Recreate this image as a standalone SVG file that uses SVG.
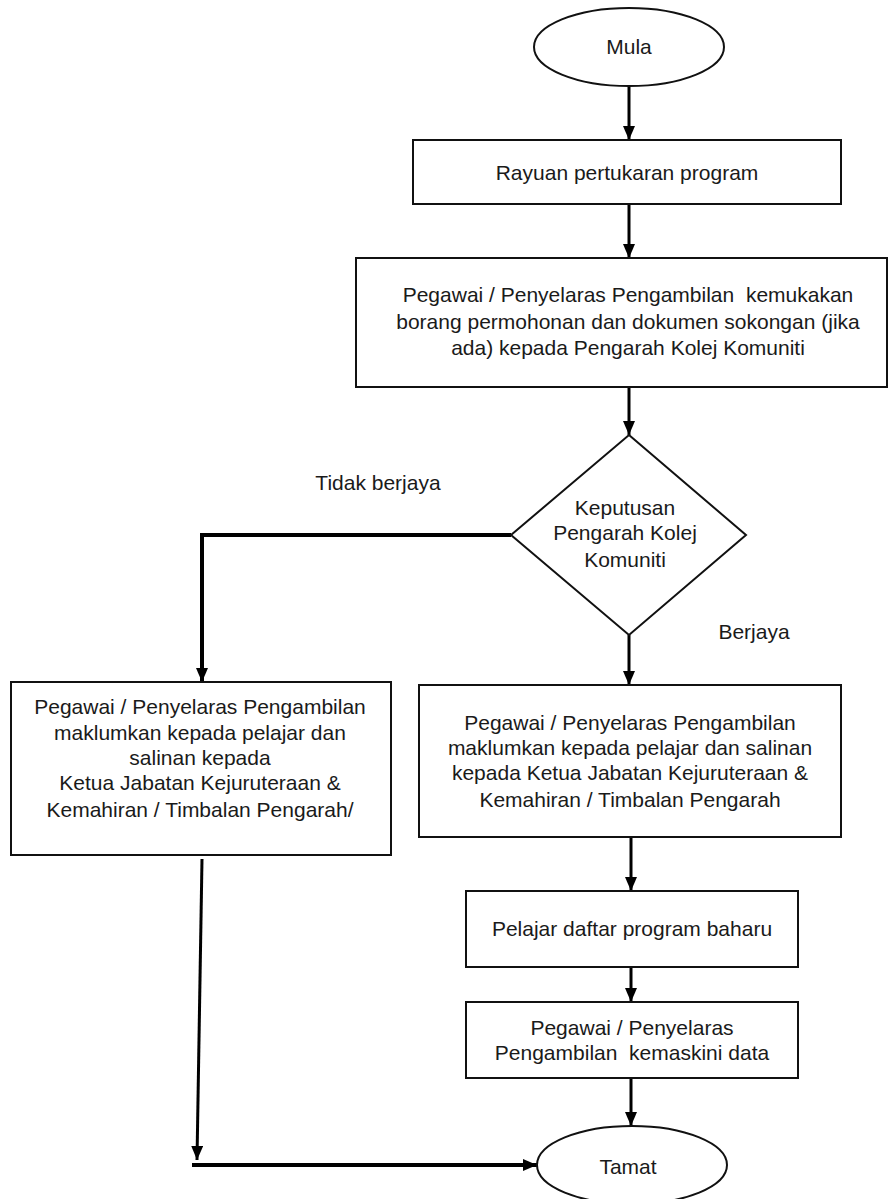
<svg xmlns="http://www.w3.org/2000/svg" width="891" height="1199" viewBox="0 0 891 1199">
<defs>
<style>
.box{fill:#fff;stroke:#111;stroke-width:2}
.t{font-family:"Liberation Sans",Arial,sans-serif;font-size:21px;fill:#1a1a1a;text-anchor:middle;white-space:pre}
.c{fill:none;stroke:#000;stroke-width:3;marker-end:url(#ah)}
</style>
<marker id="ah" viewBox="0 0 14 12" refX="14" refY="6" markerWidth="14" markerHeight="12" markerUnits="userSpaceOnUse" orient="auto">
<path d="M0,0 L14,6 L0,12 z" fill="#000"/>
</marker>
</defs>
<rect width="891" height="1199" fill="#fff"/>
<g id="connectors">
<line class="c" x1="629" y1="86" x2="629" y2="140"/>
<line class="c" x1="629" y1="204" x2="629" y2="258"/>
<line class="c" x1="629" y1="387" x2="629" y2="435"/>
<polyline class="c" style="stroke-width:4" points="511,535 202,535 202,682"/>
<line class="c" x1="629" y1="635" x2="629" y2="685"/>
<line class="c" x1="631" y1="837" x2="631" y2="891"/>
<line class="c" x1="631" y1="967" x2="631" y2="1002"/>
<line class="c" x1="631" y1="1078" x2="631" y2="1126"/>
<line class="c" x1="202" y1="859" x2="197" y2="1160"/>
<line class="c" style="stroke-width:4" x1="192" y1="1165" x2="537" y2="1165"/>
</g>
<g id="mula">
<ellipse class="box" cx="629" cy="47" rx="95" ry="39"/>
<text class="t" x="629" y="54">Mula</text>
</g>
<g id="rayuan">
<rect class="box" x="413" y="140" width="428" height="64"/>
<text class="t" x="627" y="180">Rayuan pertukaran program</text>
</g>
<g id="kemukakan">
<rect class="box" x="356" y="258" width="531" height="129"/>
<text class="t" x="628" y="302">Pegawai / Penyelaras Pengambilan  kemukakan</text>
<text class="t" x="628" y="329">borang permohonan dan dokumen sokongan (jika</text>
<text class="t" x="628" y="355">ada) kepada Pengarah Kolej Komuniti</text>
</g>
<g id="keputusan">
<polygon class="box" points="629,435 746,535 629,635 511,535"/>
<text class="t" x="625" y="515">Keputusan</text>
<text class="t" x="625" y="540">Pengarah Kolej</text>
<text class="t" x="625" y="567">Komuniti</text>
</g>
<g id="labels">
<text class="t" x="378" y="490">Tidak berjaya</text>
<text class="t" x="754" y="639">Berjaya</text>
</g>
<g id="gagal">
<rect class="box" x="11" y="682" width="380" height="173"/>
<text class="t" x="200" y="714">Pegawai / Penyelaras Pengambilan</text>
<text class="t" x="200" y="740">maklumkan kepada pelajar dan</text>
<text class="t" x="200" y="765">salinan kepada</text>
<text class="t" x="200" y="790">Ketua Jabatan Kejuruteraan &amp;</text>
<text class="t" x="200" y="817">Kemahiran / Timbalan Pengarah/</text>
</g>
<g id="berjaya">
<rect class="box" x="419" y="685" width="422" height="152"/>
<text class="t" x="630" y="730">Pegawai / Penyelaras Pengambilan</text>
<text class="t" x="630" y="755">maklumkan kepada pelajar dan salinan</text>
<text class="t" x="630" y="780">kepada Ketua Jabatan Kejuruteraan &amp;</text>
<text class="t" x="630" y="807">Kemahiran / Timbalan Pengarah</text>
</g>
<g id="daftar">
<rect class="box" x="466" y="891" width="332" height="76"/>
<text class="t" x="632" y="936">Pelajar daftar program baharu</text>
</g>
<g id="kemaskini">
<rect class="box" x="466" y="1002" width="332" height="76"/>
<text class="t" x="632" y="1035">Pegawai / Penyelaras</text>
<text class="t" x="632" y="1060">Pengambilan  kemaskini data</text>
</g>
<g id="tamat">
<ellipse class="box" cx="632" cy="1165" rx="95" ry="39"/>
<text class="t" x="628" y="1174">Tamat</text>
</g>
</svg>
